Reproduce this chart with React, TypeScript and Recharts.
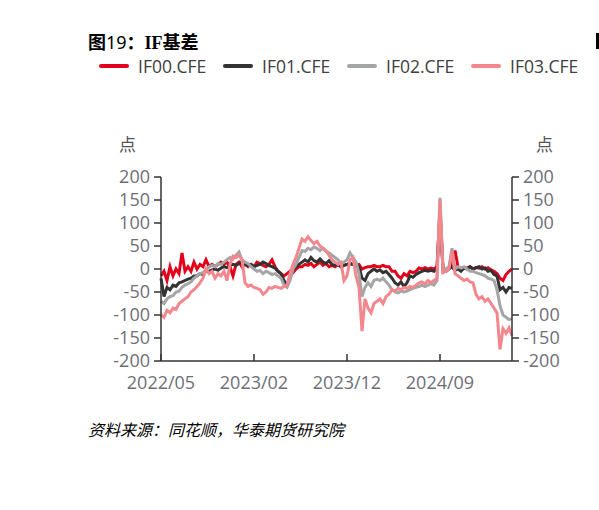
import React from 'react';
import { LineChart, Line, XAxis, YAxis } from 'recharts';

// one point every ~9 days, 2022/05 to 2025/04
const if00 = [
  -15, -5, -25, 5, -15, 0, -10, 35, -5, 5, -5, 15, 0, 10, 5, 20, 5, 10, 5, 10, 15, 10, 15, 5, -15, 10, 15, 5, 10, 5, 10, 5,
  15, 12, 8, 5, 10, 20, 5, -5, -10, -15, -10, -5, -8, 0, 5, 5, 10, 8, 12, 5, 10, 15, 8, 12, 5, 8, 5, 10, 5, 8,
  10, 12, 10, 8, 10, 0, 3, 5, 5, 8, 5, 5, 8, 5, 5, -5, -5, -15, -20, -10, -15, -5, -8, -5, 2, 0, 3, 0, 2, 0, 5, 120,
  0, -2, 0, 10, 40, 5, 0, 3, 2, 5, 0, 3, 2, 5, 0, 3, -2, -5, -10, -20, -25, -12, -5, 0,
];
const if01 = [
  -20, -60, -40, -45, -35, -38, -30, -28, -25, -22, -20, -15, -15, -10, -12, -5, -5, -2, 0, -3, 2, 5, 3, 8, 10, 8, 12, 15, 10, 8, 10, 5,
  8, 10, 15, 12, 8, 5, 2, -5, -10, -25, -35, -20, 0, 5, 10, 15, 20, 15, 25, 18, 15, 22, 15, 12, 18, 10, 8, 10, 5, 8,
  10, 12, 10, 10, 5, -20, -25, -10, -5, 0, -5, -2, -8, -5, -12, -20, -30, -35, -28, -38, -30, -15, -18, -12, -8, -5, -3, -5, -3, -5, 0, 130,
  -2, -5, 0, 5, -3, 0, -5, 2, 0, 5, 0, 3, 5, 0, 2, -5, -3, -12, -15, -45, -40, -50, -40, -42,
];
const if02 = [
  -70, -75, -65, -60, -58, -50, -48, -40, -35, -32, -28, -20, -15, -10, -8, -2, 5, 8, 5, 12, 10, 15, 20, 25, 22, 30, 37, 20, 15, 12, 5, 0,
  -5, -3, -10, -5, -8, -12, -10, -15, -20, -35, -40, -25, 0, 10, 25, 40, 38, 45, 42, 48, 45, 40, 45, 38, 35, 30, 25, 20, 10, 15,
  20, 35, 25, 15, -10, -60, -40, -30, -38, -25, -22, -25, -20, -28, -35, -45, -50, -52, -48, -50, -48, -45, -42, -40, -38, -35, -38, -35, -32, -35, -25, 155,
  -5, 0, 5, 45, 0, 5, 2, 5, 0, -5, -5, -8, -10, -12, -15, -20, -22, -25, -45, -80, -100, -105, -110, -108,
];
const if03 = [
  -100, -105, -90, -95, -85, -88, -75, -70, -65, -60, -50, -45, -38, -30, -20, 0, -10, -5, -20, -10, -15, -5, -25, 10, 28, 25, 30, 20, -30, -38, -35, -40,
  -42, -45, -55, -50, -40, -42, -38, -40, -42, -38, -35, -10, 10, 25, 45, 65, 60, 70, 62, 55, 60, 50, 45, 40, 30, 20, 15, 10, 15, -25,
  -15, 20, 25, -15, -40, -135, -65, -85, -95, -75, -70, -65, -75, -60, -55, -45, -48, -42, -45, -40, -42, -38, -40, -35, -30, -28, -32, -25, -30, -25, -20, 150,
  -8, -5, 0, 40, -10, -15, -20, -25, -22, -28, -30, -55, -65, -60, -70, -65, -75, -85, -95, -175, -130, -140, -128, -145,
];

const xTicks = [0, 31, 62, 93];
const xTickLabels = ['2022/05', '2023/02', '2023/12', '2024/09'];
const yTicks = [-200, -150, -100, -50, 0, 50, 100, 150, 200];

const series = [
  { key: 'if00', name: 'IF00.CFE', color: '#e2001a' },
  { key: 'if01', name: 'IF01.CFE', color: '#333333' },
  { key: 'if02', name: 'IF02.CFE', color: '#a3a5a7' },
  { key: 'if03', name: 'IF03.CFE', color: '#f4878d' },
];

const data = if00.map((v, i) => ({ i, if00: v, if01: if01[i], if02: if02[i], if03: if03[i] }));

const tickFont = { fontSize: 18, fill: '#6e6e78', fontFamily: '"Open Sans", "Noto Sans", sans-serif' };
const axisColor = '#333333';

const App: React.FC = () => {
  return (
    <div style={{ position: 'absolute', left: 0, top: 0, width: 599, height: 510, background: '#fff' }}>
      <div
        style={{
          position: 'absolute', left: 88, top: 29, fontSize: 18, lineHeight: '24px', color: '#000',
          fontFamily: '"Noto Sans CJK SC", sans-serif', fontWeight: 700, whiteSpace: 'nowrap',
        }}
      >
        图<span style={{ fontWeight: 400, fontFamily: '"Noto Sans", sans-serif' }}>19</span>：
        <span style={{ fontFamily: '"Liberation Serif", serif' }}>IF</span>基差
      </div>
      <div style={{ position: 'absolute', left: 596, top: 33, width: 3, height: 16, background: '#000' }} />

      {series.map((s, idx) => (
        <div
          key={s.key}
          style={{ position: 'absolute', left: 99 + idx * 124, top: 55, height: 22, display: 'flex', alignItems: 'center', whiteSpace: 'nowrap' }}
        >
          <div style={{ width: 30, height: 4, borderRadius: 2, background: s.color, marginRight: 9 }} />
          <span style={{ fontSize: 17.5, color: '#404040', fontFamily: '"Open Sans", "Noto Sans", sans-serif' }}>{s.name}</span>
        </div>
      ))}

      <div style={{ position: 'absolute', left: 119, top: 131, fontSize: 17, color: '#555', fontFamily: '"Noto Sans CJK SC", sans-serif' }}>点</div>
      <div style={{ position: 'absolute', left: 536, top: 131, fontSize: 17, color: '#555', fontFamily: '"Noto Sans CJK SC", sans-serif' }}>点</div>

      <div style={{ position: 'absolute', left: 0, top: 0 }}>
        <LineChart width={599} height={510} data={data} margin={{ top: 177, right: 27, bottom: 119, left: 101 }}>
          <XAxis
            dataKey="i"
            type="number"
            domain={[0, 117]}
            ticks={xTicks}
            tickFormatter={(v: number) => xTickLabels[xTicks.indexOf(v)] ?? ''}
            height={30}
            tickSize={-7}
            tickMargin={22}
            interval={0}
            tick={tickFont}
            stroke={axisColor}
            axisLine={{ stroke: axisColor, strokeWidth: 1.5 }}
            tickLine={{ stroke: axisColor, strokeWidth: 1.5 }}
          />
          <YAxis
            yAxisId="left"
            orientation="left"
            width={60}
            domain={[-200, 200]}
            ticks={yTicks}
            interval={0}
            tickSize={7}
            tickMargin={4}
            tick={tickFont}
            axisLine={{ stroke: axisColor, strokeWidth: 1.5 }}
            tickLine={{ stroke: axisColor, strokeWidth: 1.5 }}
          />
          <YAxis
            yAxisId="right"
            orientation="right"
            width={60}
            domain={[-200, 200]}
            ticks={yTicks}
            interval={0}
            tickSize={7}
            tickMargin={4}
            tick={tickFont}
            axisLine={{ stroke: axisColor, strokeWidth: 1.5 }}
            tickLine={{ stroke: axisColor, strokeWidth: 1.5 }}
          />
          {/* carrier for the right axis, not drawn */}
          <Line
            yAxisId="right"
            dataKey="if00"
            stroke="none"
            strokeWidth={0}
            dot={false}
            activeDot={false}
            legendType="none"
            isAnimationActive={false}
          />
          {series.map((s) => (
            <Line
              key={s.key}
              yAxisId="left"
              type="linear"
              dataKey={s.key}
              name={s.name}
              stroke={s.color}
              strokeWidth={3}
              dot={false}
              activeDot={false}
              isAnimationActive={false}
            />
          ))}
        </LineChart>
      </div>

      <div
        style={{
          position: 'absolute', left: 88, top: 417, fontSize: 16, color: '#000', fontStyle: 'italic',
          fontFamily: '"Noto Sans CJK SC", sans-serif', whiteSpace: 'nowrap',
        }}
      >
        资料来源：同花顺，华泰期货研究院
      </div>
    </div>
  );
};

export default App;
